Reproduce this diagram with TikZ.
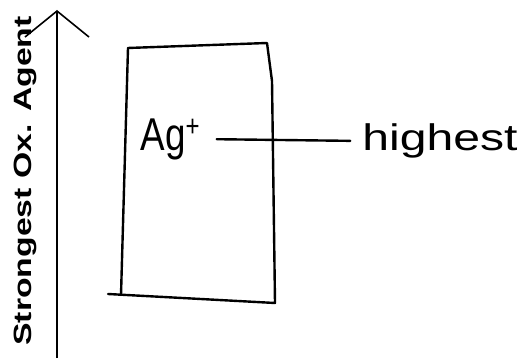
\documentclass[tikz,border=0pt]{standalone}
\usepackage{fontspec}
\setmainfont{Liberation Sans}
\usetikzlibrary{arrows.meta,positioning}

\begin{document}
\begin{tikzpicture}[x=1pt,y=1pt]
\useasboundingbox (0,0) rectangle (521,361);
\tikzset{hand/.style={line width=2.4pt,line cap=round,line join=round}}
\node[rotate=90,inner sep=0pt,font=\fontsize{25}{25}\selectfont\bfseries] (axislabel) at (25,180) {\scalebox{1.35}[1]{Strongest Ox. Agent}};
\coordinate (a0) at (57,3);
\coordinate (a1) at (57,351);
\draw[line width=1.6pt,-{Straight Barb[length=26pt,width=64pt]}] (a0) -- (a1);
\draw[hand] (128,313) -- (267,318) -- (272,280) -- (275,58) -- (108,67);
\draw[hand] (128,313) -- (121,66);
\node[inner sep=0pt,font=\fontsize{46}{46}\selectfont] (ag) at (170,222) {\scalebox{0.8}[1]{Ag\raisebox{14pt}{\fontsize{30}{30}\selectfont +}}};
\node[inner sep=0pt,font=\fontsize{37}{37}\selectfont] (hi) at (440,220) {\scalebox{1.3}[1]{highest}};
\draw[hand,shorten <=17pt,shorten >=12pt] (ag.east) -- (hi.west);
\end{tikzpicture}
\end{document}
